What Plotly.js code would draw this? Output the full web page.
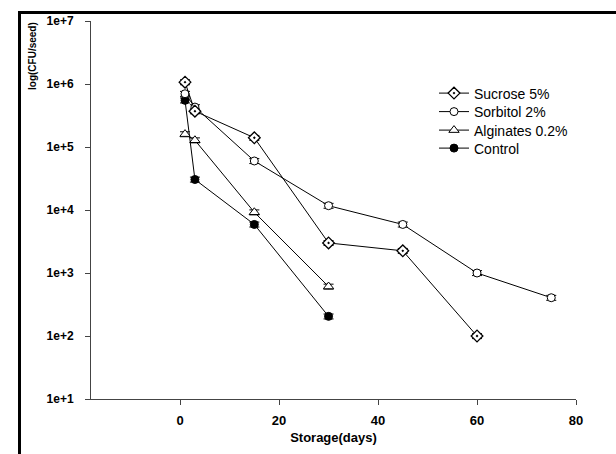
<!DOCTYPE html>
<html>
<head>
<meta charset="utf-8">
<script src="https://cdn.plot.ly/plotly-3.0.1.min.js"></script>
<style>html,body{margin:0;padding:0;background:#fff;}#chart{width:616px;height:454px;}</style>
</head>
<body>
<div id="chart"></div>
<script>
// ---- data ----
const seriesNames = ["Sucrose 5%", "Sorbitol 2%", "Alginates 0.2%", "Control"];
const sucroseDays = [1, 3, 15, 30, 45, 60];
const sucroseCFU  = [1.07e6, 3.7e5, 1.4e5, 3.0e3, 2.25e3, 100];
const sorbitolDays = [1, 3, 15, 30, 45, 60, 75];
const sorbitolCFU  = [7.0e5, 4.3e5, 6.0e4, 1.17e4, 5.9e3, 1.0e3, 405];
const alginateDays = [1, 3, 15, 30];
const alginateCFU  = [1.6e5, 1.28e5, 9.2e3, 610];
const controlDays = [1, 3, 15, 30];
const controlCFU  = [5.5e5, 3.05e4, 5.9e3, 205];
const yTickVals = [10, 100, 1000, 10000, 100000, 1000000, 10000000];
const yTickText = ["1e+1", "1e+2", "1e+3", "1e+4", "1e+5", "1e+6", "1e+7"];
const xTickVals = [0, 20, 40, 60, 80];
const xTickText = ["0", "20", "40", "60", "80"];

// ---- geometry ----
const W = 616, H = 454;
const L = 91, R = 40, T = 21, B = 55;
const pw = W - L - R, ph = H - T - B;
const px2x = p => (p - L) / pw;
const py2y = p => 1 - (p - T) / ph;
const bold = s => '<b>' + s + '</b>';
const fam = 'Liberation Sans, Arial, Helvetica, sans-serif';

const errStyle = {type: 'percent', value: 9, width: 5, thickness: 1, color: '#000'};
function trace(name, x, y, symbol, fill, size, lw, legendId) {
  return {
    type: 'scatter', mode: 'lines+markers', name: name, x: x, y: y,
    legend: legendId,
    line: {color: '#000', width: 1},
    marker: {symbol: symbol, size: size, color: fill, line: {color: '#000', width: lw}},
    error_y: errStyle
  };
}
const data = [
  trace(seriesNames[3], controlDays, controlCFU, 'circle', '#000', 8, 1, 'legend4'),
  trace(seriesNames[2], alginateDays, alginateCFU, 'triangle-up', '#fff', 9, 1, 'legend3'),
  trace(seriesNames[1], sorbitolDays, sorbitolCFU, 'circle', '#fff', 8, 1, 'legend2'),
  trace(seriesNames[0], sucroseDays, sucroseCFU, 'diamond-dot', '#fff', 9, 1.3, 'legend')
];

function legendAt(rowCenterPx) {
  return {
    x: px2x(434), y: py2y(rowCenterPx), xanchor: 'left', yanchor: 'middle',
    font: {family: fam, size: 14, color: '#000'},
    bgcolor: 'rgba(0,0,0,0)', borderwidth: 0
  };
}

const layout = {
  width: W, height: H,
  margin: {l: L, r: R, t: T, b: B, pad: 0},
  paper_bgcolor: '#fff', plot_bgcolor: '#fff',
  showlegend: true,
  legend: legendAt(93.5),
  legend2: legendAt(112),
  legend3: legendAt(130.5),
  legend4: legendAt(148.5),
  xaxis: {
    range: [-18, 80], tickvals: xTickVals, ticktext: xTickText.map(bold),
    ticks: 'outside', ticklen: 5, tickwidth: 1,
    tickcolor: '#444', showline: true, linecolor: '#444', linewidth: 1,
    showgrid: false, zeroline: false, ticklabelstandoff: 4,
    tickfont: {family: fam, size: 13, color: '#000'},
    title: {text: bold('Storage(days)'), font: {family: fam, size: 13, color: '#000'}, standoff: 6}
  },
  yaxis: {
    type: 'log', range: [1, 7], tickvals: yTickVals, ticktext: yTickText.map(bold),
    ticks: 'outside', ticklen: 5, tickwidth: 1, tickcolor: '#444',
    showline: true, linecolor: '#444', linewidth: 1,
    showgrid: false, zeroline: false, ticklabelstandoff: 9,
    tickfont: {family: fam, size: 12, color: '#000'}
  },
  annotations: [{
    text: bold('log(CFU/seed)'), textangle: -90, showarrow: false,
    xref: 'paper', yref: 'paper', x: px2x(33), y: py2y(56),
    xanchor: 'center', yanchor: 'middle',
    font: {family: fam, size: 10, color: '#000'}
  }],
  shapes: [{
    type: 'rect', xref: 'paper', yref: 'paper',
    x0: px2x(19.5), x1: px2x(W + 20), y0: py2y(H + 20), y1: py2y(12.5),
    line: {color: '#000', width: 3}, fillcolor: 'rgba(0,0,0,0)', layer: 'above'
  }]
};

Plotly.newPlot('chart', data, layout, {displayModeBar: false, staticPlot: true});
</script>
</body>
</html>
